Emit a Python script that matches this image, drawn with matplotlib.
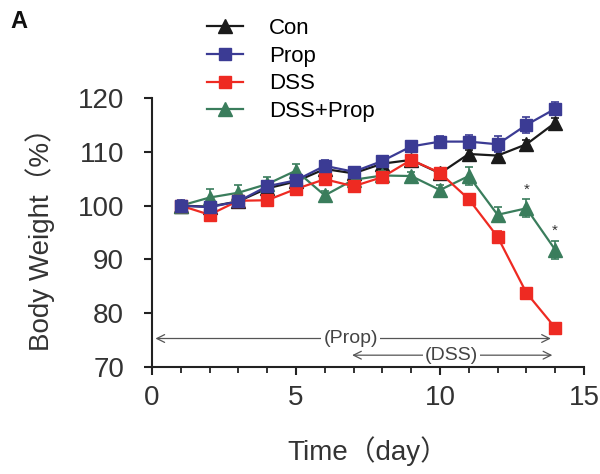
import matplotlib
matplotlib.use("Agg")
import matplotlib.pyplot as plt
from matplotlib.lines import Line2D
from matplotlib.ticker import MultipleLocator

days = [1, 2, 3, 4, 5, 6, 7, 8, 9, 10, 11, 12, 13, 14]
con = [100, 99.8, 100.8, 103.2, 104.5, 106.8, 106.0, 107.8, 108.5, 106.0, 109.6, 109.3, 111.4, 115.4]
con_err = [0.8, 0.8, 0.8, 0.8, 0.8, 0.8, 0.8, 0.8, 0.8, 0.8, 0.8, 0.8, 0.8, 0.8]
prop = [100, 99.7, 100.8, 103.6, 104.7, 107.4, 106.3, 108.3, 111.0, 111.9, 111.9, 111.4, 115.0, 118.0]
prop_err = [1.0, 1.0, 0.9, 1.0, 1.0, 1.0, 0.9, 1.0, 1.0, 1.0, 1.2, 1.5, 1.5, 1.2]
dss = [100, 98.3, 100.9, 101.0, 103.1, 104.9, 103.6, 105.3, 108.5, 106.1, 101.2, 94.2, 83.8, 77.3]
dss_err = [0.8, 0.8, 0.8, 0.8, 0.8, 0.8, 0.8, 0.8, 0.8, 0.8, 0.9, 1.0, 0.9, 0.9]
dssprop = [100, 101.5, 102.4, 104.0, 106.5, 101.9, 104.8, 105.6, 105.5, 102.9, 105.5, 98.3, 99.5, 91.8]
dssprop_err = [0.8, 1.5, 1.5, 1.4, 1.2, 0.8, 0.8, 0.8, 0.8, 1.0, 1.7, 1.4, 1.7, 1.7]
labels = ["Con", "Prop", "DSS", "DSS+Prop"]
star_days = [13, 14]

plt.rcParams['font.family'] = ['Liberation Sans', 'Noto Sans CJK SC', 'DejaVu Sans']

fig = plt.figure(figsize=(6, 4.74), dpi=100)
ax = fig.add_axes([0.2533, 0.2257, 0.7200, 0.5675])

c_con = '#1a1a1a'
c_prop = '#3b3b94'
c_dss = '#ee2a22'
c_dp = '#3a7d5c'

kw = dict(lw=1.6, capsize=3, elinewidth=1.2, capthick=1.2, clip_on=False)
ax.errorbar(days, con, yerr=con_err, color=c_con, marker='^', ms=10, zorder=2, **kw)
ax.errorbar(days, dssprop, yerr=dssprop_err, color=c_dp, marker='^', ms=10, zorder=3, **kw)
ax.errorbar(days, dss, yerr=dss_err, color=c_dss, marker='s', ms=9, zorder=4, **kw)
ax.errorbar(days, prop, yerr=prop_err, color=c_prop, marker='s', ms=9, zorder=5, **kw)

for d in star_days:
    i = days.index(d)
    ax.text(d, dssprop[i] + dssprop_err[i] + 0.5, '*', ha='center', va='bottom',
            fontsize=11, color='#333333', zorder=6)

ax.set_xlim(0, 15)
ax.set_ylim(70, 120)
ax.xaxis.set_major_locator(MultipleLocator(5))
ax.xaxis.set_minor_locator(MultipleLocator(1))
ax.yaxis.set_major_locator(MultipleLocator(10))
for s in ['top', 'right']:
    ax.spines[s].set_visible(False)
for s in ['left', 'bottom']:
    ax.spines[s].set_linewidth(1.5)
    ax.spines[s].set_color('#222222')
ax.tick_params(axis='both', which='major', direction='out', length=6, width=1.5,
               labelsize=20, colors='#222222', labelcolor='#333333')
ax.tick_params(axis='x', which='minor', direction='out', length=4, width=1.3, colors='#222222')
ax.tick_params(axis='y', which='major', pad=14)
ax.tick_params(axis='x', which='major', pad=7)

ax.set_ylabel('Body Weight（%）', fontsize=20, color='#333333', labelpad=16)
ax.set_xlabel('Time（day）', fontsize=20, color='#333333', labelpad=18)

# Treatment period arrows
arr = dict(arrowstyle='<->', color='#555555', lw=0.9, mutation_scale=14, shrinkA=0, shrinkB=0)
ax.annotate('', xy=(0.12, 75.3), xytext=(13.85, 75.3), arrowprops=arr, zorder=1)
ax.annotate('', xy=(6.95, 72.2), xytext=(13.9, 72.2), arrowprops=arr, zorder=1)
bb = dict(facecolor='white', edgecolor='none', pad=1.5)
ax.text(6.9, 75.3, '(Prop)', ha='center', va='center', fontsize=14, color='#444444', bbox=bb, zorder=1.5)
ax.text(10.4, 72.2, '(DSS)', ha='center', va='center', fontsize=14, color='#444444', bbox=bb, zorder=1.5)

handles = [
    Line2D([], [], color=c_con, marker='^', ms=10, lw=1.6),
    Line2D([], [], color=c_prop, marker='s', ms=9, lw=1.6),
    Line2D([], [], color=c_dss, marker='s', ms=9, lw=1.6),
    Line2D([], [], color=c_dp, marker='^', ms=10, lw=1.6),
]
fig.legend(handles, labels, loc='upper left',
           bbox_to_anchor=(0.345, 0.962), frameon=False, fontsize=16,
           handlelength=1.6, handletextpad=1.2, labelspacing=0.3,
           borderpad=0, borderaxespad=0)

fig.text(0.018, 0.955, 'A', fontsize=17, fontweight='bold', color='#111111', va='center')

fig.savefig('out.png', dpi=100)
